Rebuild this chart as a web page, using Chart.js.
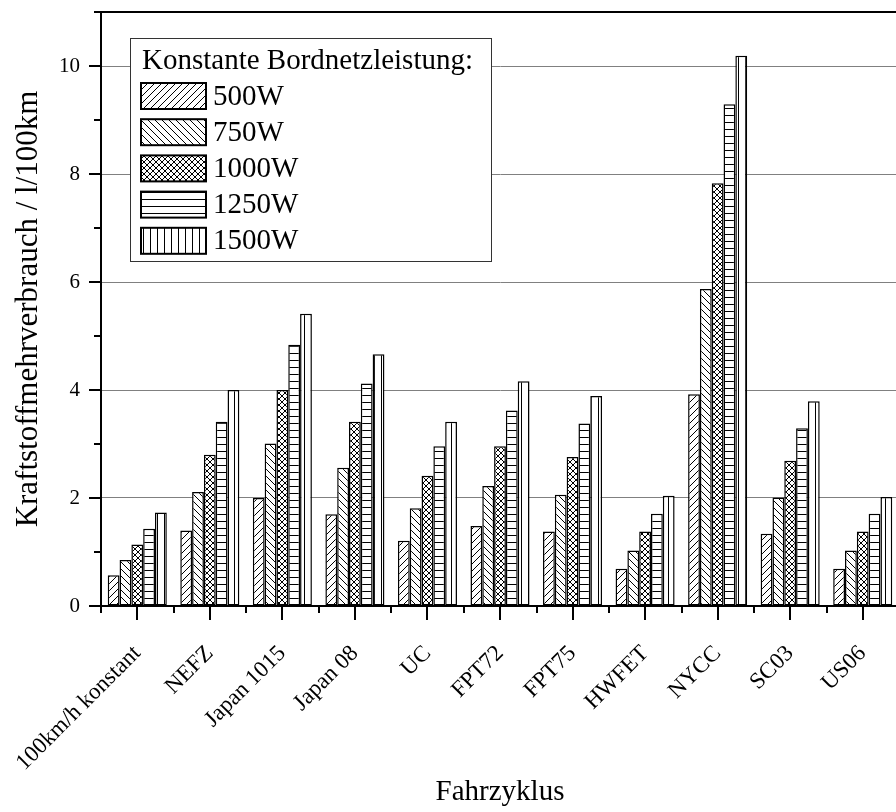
<!DOCTYPE html>
<html>
<head>
<meta charset="utf-8">
<script src="https://cdn.jsdelivr.net/npm/chart.js@4.4.0/dist/chart.umd.min.js"></script>
<style>
  html, body { margin: 0; padding: 0; background: #fff; overflow: hidden; }
  #wrap { position: relative; width: 900px; height: 812px; }
</style>
</head>
<body>
<div id="wrap"><canvas id="chart"></canvas></div>
<script>
const cycles = ['100km/h konstant', 'NEFZ', 'Japan 1015', 'Japan 08', 'UC', 'FPT72', 'FPT75', 'HWFET', 'NYCC', 'SC03', 'US06'];
const seriesNames = ['500W', '750W', '1000W', '1250W', '1500W'];
const w500  = [0.57, 1.40, 2.00, 1.70, 1.21, 1.48, 1.38, 0.69, 3.92, 1.34, 0.69];
const w750  = [0.85, 2.11, 3.01, 2.56, 1.81, 2.22, 2.06, 1.03, 5.87, 2.01, 1.03];
const w1000 = [1.14, 2.80, 4.00, 3.41, 2.41, 2.96, 2.76, 1.38, 7.83, 2.69, 1.38];
const w1250 = [1.43, 3.41, 4.84, 4.12, 2.96, 3.62, 3.38, 1.71, 9.29, 3.29, 1.71];
const w1500 = [1.73, 4.00, 5.41, 4.66, 3.41, 4.16, 3.89, 2.04, 10.19, 3.79, 2.02];
const yTicks = [0, 2, 4, 6, 8, 10];

const FONT = "'Liberation Serif', 'Times New Roman', serif";

// hatch patterns like the Origin fills
function makePattern(kind) {
  const size = kind === 'cross' ? 6 : 7;
  const c = document.createElement('canvas');
  c.width = size; c.height = size;
  const g = c.getContext('2d');
  g.fillStyle = '#fff';
  g.fillRect(0, 0, size, size);
  g.strokeStyle = '#000';
  g.lineWidth = 1;
  g.beginPath();
  if (kind === 'fwd' || kind === 'cross') {
    g.moveTo(0, size); g.lineTo(size, 0);
    g.moveTo(-size, size); g.lineTo(size, -size);
    g.moveTo(0, 2 * size); g.lineTo(2 * size, 0);
  }
  if (kind === 'back' || kind === 'cross') {
    g.moveTo(0, 0); g.lineTo(size, size);
    g.moveTo(-size, 0); g.lineTo(size, 2 * size);
    g.moveTo(0, -size); g.lineTo(2 * size, size);
  }
  if (kind === 'horiz') {
    g.moveTo(0, 3.5); g.lineTo(size, 3.5);
  }
  if (kind === 'vert') {
    g.moveTo(3.5, 0); g.lineTo(3.5, size);
  }
  g.stroke();
  return g.createPattern(c, 'repeat');
}

const patterns = ['fwd', 'back', 'cross', 'horiz', 'vert'].map(makePattern);
const values = [w500, w750, w1000, w1250, w1500];

const datasets = seriesNames.map((name, i) => ({
  label: name,
  data: values[i],
  backgroundColor: patterns[i],
  borderColor: '#000',
  borderWidth: 1.5,
  borderSkipped: false,
  categoryPercentage: 0.814,
  barPercentage: 1.0
}));

// axis ticks (major + minor), top frame line and the boxed legend
const framePlugin = {
  id: 'frame',
  afterDatasetsDraw(chart) {
    const { ctx, chartArea } = chart;
    const x = chart.scales.x, y = chart.scales.y;
    ctx.save();
    ctx.strokeStyle = '#000';
    ctx.lineWidth = 2;
    ctx.beginPath();
    ctx.moveTo(chartArea.left - 1, chartArea.top);
    ctx.lineTo(chartArea.right + 10, chartArea.top);
    ctx.stroke();

    ctx.lineWidth = 2;
    ctx.beginPath();
    for (let v = 0; v <= 11; v++) {
      const py = Math.round(y.getPixelForValue(v));
      const len = v % 2 === 0 ? 12 : 7;
      ctx.moveTo(chartArea.left - len, py);
      ctx.lineTo(chartArea.left, py);
    }
    const step = x.getPixelForValue(1) - x.getPixelForValue(0);
    for (let i = 0; i < cycles.length; i++) {
      const px = Math.round(x.getPixelForValue(i));
      ctx.moveTo(px, chartArea.bottom);
      ctx.lineTo(px, chartArea.bottom + 14);
      const bx = Math.round(px - step / 2);
      ctx.moveTo(bx, chartArea.bottom);
      ctx.lineTo(bx, chartArea.bottom + 7);
    }
    ctx.stroke();

    // legend box
    const lx = 130, ly = 38, lw = 361, lh = 223;
    ctx.fillStyle = '#fff';
    ctx.fillRect(lx, ly, lw, lh);
    ctx.lineWidth = 1;
    ctx.strokeStyle = '#333';
    ctx.strokeRect(lx + 0.5, ly + 0.5, lw, lh);
    ctx.fillStyle = '#000';
    ctx.font = '29px ' + FONT;
    ctx.textBaseline = 'alphabetic';
    ctx.fillText('Konstante Bordnetzleistung:', 142, 69);
    ctx.textBaseline = 'middle';
    chart.data.datasets.forEach((ds, i) => {
      const cy = 96 + i * 36.2;
      ctx.fillStyle = ds.backgroundColor;
      ctx.fillRect(141, cy - 13, 65, 26);
      ctx.lineWidth = 2;
      ctx.strokeStyle = '#000';
      ctx.strokeRect(141, cy - 13, 65, 26);
      ctx.fillStyle = '#000';
      ctx.fillText(ds.label, 213, cy + 1);
    });
    ctx.restore();
  }
};

new Chart(document.getElementById('chart'), {
  type: 'bar',
  data: { labels: cycles, datasets },
  plugins: [framePlugin],
  options: {
    responsive: true,
    maintainAspectRatio: false,
    animation: false,
    layout: { padding: { top: 12, right: 1, left: 0, bottom: 0 } },
    plugins: {
      legend: { display: false },
      tooltip: { enabled: false }
    },
    scales: {
      x: {
        grid: { display: false, drawTicks: false },
        border: { color: '#000', width: 2 },
        ticks: {
          color: '#000',
          font: { family: FONT, size: 23 },
          minRotation: 45,
          maxRotation: 45,
          autoSkip: false,
          padding: 34
        },
        title: {
          display: true,
          text: 'Fahrzyklus',
          color: '#000',
          font: { family: FONT, size: 29 },
          padding: { top: 0, bottom: 2 }
        },
        afterFit(scale) { scale.height = 206; scale.paddingLeft = 0; scale.paddingRight = 0; }
      },
      y: {
        min: 0,
        max: 11,
        grid: {
          drawTicks: false,
          lineWidth: 1,
          color: c => (c.tick && yTicks.includes(c.tick.value) && c.tick.value > 0) ? '#808080' : 'rgba(0,0,0,0)'
        },
        border: { color: '#000', width: 2 },
        ticks: {
          stepSize: 1,
          color: '#000',
          font: { family: FONT, size: 21 },
          padding: 21,
          callback: v => yTicks.includes(v) ? String(v) : ''
        },
        title: {
          display: true,
          text: 'Kraftstoffmehrverbrauch / l/100km',
          color: '#000',
          font: { family: FONT, size: 31 },
          padding: { top: 10, bottom: 0 }
        },
        afterFit(scale) { scale.width = 101; scale.paddingTop = 0; scale.paddingBottom = 0; }
      }
    }
  }
});
</script>
</body>
</html>
